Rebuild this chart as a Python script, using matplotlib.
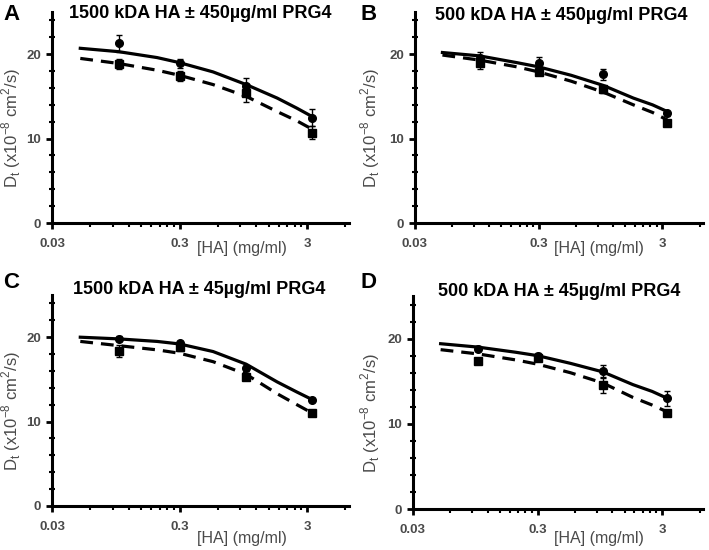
import matplotlib
matplotlib.use("Agg")
import matplotlib.pyplot as plt
import numpy as np
from matplotlib.ticker import FixedLocator, NullFormatter

plt.rcParams['font.family'] = ['Liberation Sans', 'DejaVu Sans']

# measured concentrations (mg/ml)
conc = [0.1, 0.3, 1.0, 3.3]
# points
fit_x = [0.05, 0.1, 0.2, 0.3, 0.55, 1.0, 1.75, 2.5, 3.3]

titles = ["1500 kDA HA \u00b1 450\u00b5g/ml PRG4", "500 kDA HA \u00b1 450\u00b5g/ml PRG4",
          "1500 kDA HA \u00b1 45\u00b5g/ml PRG4", "500 kDA HA \u00b1 45\u00b5g/ml PRG4"]
letters = ["A", "B", "C", "D"]

# circles (solid fit) and squares (dashed fit)
circ_A = [21.3, 18.9, 16.2, 12.5]; circ_err_A = [1.0, 0.5, 1.0, 1.0]
sq_A = [18.8, 17.4, 15.4, 10.7];   sq_err_A = [0.6, 0.6, 1.1, 0.8]
circ_B = [19.5, 19.0, 17.6, 13.0]; circ_err_B = [0.8, 0.7, 0.6, 0.3]
sq_B = [18.9, 17.9, 15.9, 11.9];   sq_err_B = [0.6, 0.4, 0.5, 0.2]
circ_C = [19.8, 19.3, 16.3, 12.6]; circ_err_C = [0.3, 0.3, 0.3, 0.2]
sq_C = [18.4, 18.8, 15.3, 11.0];   sq_err_C = [0.7, 0.4, 0.4, 0.2]
circ_D = [18.8, 18.0, 16.2, 13.0]; circ_err_D = [0.3, 0.3, 0.7, 0.9]
sq_D = [17.4, 17.7, 14.5, 11.3];   sq_err_D = [0.3, 0.3, 0.9, 0.3]

solid_A = [20.7, 20.3, 19.6, 19.0, 17.9, 16.4, 14.8, 13.6, 12.6]
dash_A = [19.5, 18.9, 18.1, 17.5, 16.4, 15.0, 13.2, 12.1, 11.1]
solid_B = [20.2, 19.8, 19.0, 18.5, 17.5, 16.3, 14.8, 14.0, 13.2]
dash_B = [19.9, 19.3, 18.5, 17.9, 16.8, 15.5, 14.0, 13.1, 12.2]
solid_C = [20.0, 19.8, 19.5, 19.2, 18.3, 16.8, 14.7, 13.5, 12.6]
dash_C = [19.5, 19.0, 18.5, 18.1, 17.1, 15.6, 13.3, 12.0, 11.0]
solid_D = [19.4, 19.0, 18.4, 18.0, 17.1, 16.1, 14.6, 13.8, 13.0]
dash_D = [18.7, 18.2, 17.5, 17.0, 16.0, 14.8, 13.1, 12.2, 11.4]

panels = [
    (circ_A, circ_err_A, sq_A, sq_err_A, solid_A, dash_A),
    (circ_B, circ_err_B, sq_B, sq_err_B, solid_B, dash_B),
    (circ_C, circ_err_C, sq_C, sq_err_C, solid_C, dash_C),
    (circ_D, circ_err_D, sq_D, sq_err_D, solid_D, dash_D),
]

W, H = 709, 550
# axes boxes in pixels: left, right, top, bottom
boxes = [(52, 349, 12, 223), (415, 703, 12, 223), (52, 349, 295, 506), (413, 703, 296, 509)]
letter_pos = [(3, 14), (360, 14), (3, 282), (360, 282)]
title_pos = [(200, 14), (561, 15), (199, 290), (559, 292)]
xlabel_y = [248, 248, 538, 538]
ylabel_x = [11, 370, 11, 370]

fig = plt.figure(figsize=(W / 100, H / 100), dpi=100)
gray = "#4a4a4a"

for i, (circ, cerr, sq, serr, sol, dsh) in enumerate(panels):
    l, r, t, b = boxes[i]
    ax = fig.add_axes([l / W, 1 - b / H, (r - l) / W, (b - t) / H])
    ax.plot(fit_x, sol, color="black", lw=2.3, ls="-")
    ax.plot(fit_x, dsh, color="black", lw=2.3, ls=(0, (4, 2.5)))
    ax.errorbar(conc, circ, yerr=cerr, fmt="o", color="black", ms=5.5,
                elinewidth=1, capsize=2)
    ax.errorbar(conc, sq, yerr=serr, fmt="s", color="black", ms=5.5,
                elinewidth=1, capsize=2)
    ax.set_xscale("log")
    ax.set_xlim(0.03, 6.4)
    ax.set_ylim(0, 25)
    ax.xaxis.set_major_locator(FixedLocator([0.03, 0.3, 3]))
    minors = [m * d for d in (0.03, 0.3) for m in range(2, 10)] + [6]
    ax.xaxis.set_minor_locator(FixedLocator(minors))
    ax.xaxis.set_minor_formatter(NullFormatter())
    ax.set_xticklabels(["0.03", "0.3", "3"])
    ax.set_yticks([0, 10, 20])
    ax.yaxis.set_minor_locator(FixedLocator(np.arange(2, 25, 2)))
    for s in ("top", "right"):
        ax.spines[s].set_visible(False)
    for s in ("left", "bottom"):
        ax.spines[s].set_linewidth(2.2)
    ax.tick_params(which="major", length=4, width=2, labelsize=9.5, labelcolor=gray)
    ax.tick_params(axis="y", which="major", pad=4)
    ax.tick_params(axis="x", which="major", pad=7)
    ax.tick_params(axis="y", which="minor", direction="inout", length=4, width=1.5)
    ax.tick_params(axis="x", which="minor", length=3, width=1.5)
    for lab in ax.get_xticklabels() + ax.get_yticklabels():
        lab.set_fontweight("bold")
    ax.set_xlabel("[HA] (mg/ml)", fontsize=11.5, color=gray, va="center")
    ax.xaxis.set_label_coords(0.64, -(xlabel_y[i] - b) / (b - t))
    ax.set_ylabel(r"D$_\mathregular{t}$ (x10$^\mathregular{-8}$ cm$^\mathregular{2}$/s)",
                  fontsize=12, color=gray, va="center")
    ax.yaxis.set_label_coords(-(l - ylabel_x[i]) / (r - l), 0.45)
    fig.text(title_pos[i][0] / W, 1 - title_pos[i][1] / H, titles[i],
             fontsize=13, fontweight="bold", va="center", ha="center")
    fig.text(letter_pos[i][0] / W, 1 - letter_pos[i][1] / H, letters[i],
             fontsize=16, fontweight="bold", va="center", ha="left")

fig.savefig("out.png", dpi=100)
